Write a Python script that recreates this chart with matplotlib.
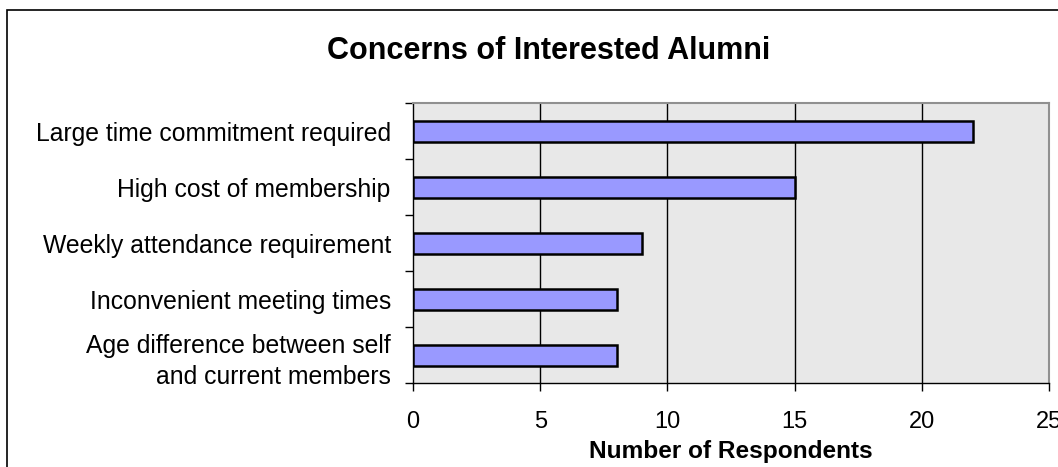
import matplotlib.pyplot as plt
from matplotlib.patches import Rectangle

concerns = [
    'Large time commitment required',
    'High cost of membership',
    'Weekly attendance requirement',
    'Inconvenient meeting times',
    'Age difference between self\nand current members',
]
respondents = [22, 15, 9, 8, 8]
x_ticks = [0, 5, 10, 15, 20, 25]

plt.rcParams['font.family'] = ['Liberation Sans', 'DejaVu Sans']

fig = plt.figure(figsize=(10.58, 4.67), dpi=100)

# outer chart frame, runs past the right and bottom edges
frame = Rectangle((7 / 1058, -0.2), 1.2, 1 - 10 / 467 + 0.2,
                  transform=fig.transFigure, fill=False,
                  edgecolor='black', linewidth=1.2, clip_on=False)
fig.patches.append(frame)

ax = fig.add_axes([413 / 1058, 1 - 383 / 467, 636 / 1058, 280 / 467])
ax.set_facecolor('#e8e8e8')

pos = list(range(len(concerns)))
ax.barh(pos, respondents, height=0.375, color='#9999ff',
        edgecolor='black', linewidth=1.8, zorder=3)

ax.set_xlim(0, 25)
ax.set_ylim(len(concerns) - 0.5, -0.5)
ax.set_xticks(x_ticks)
ax.set_xticklabels([str(v) for v in x_ticks], fontsize=17)
ax.set_yticks(pos)
ax.set_yticklabels(concerns, fontsize=17.8, ha='right', multialignment='right',
                   linespacing=1.4)
ax.set_yticks([p - 0.5 for p in pos] + [len(pos) - 0.5], minor=True)

ax.tick_params(axis='y', which='major', length=0, pad=16)
ax.tick_params(axis='y', which='minor', length=6, width=1, color='black')
ax.tick_params(axis='x', length=6, width=1, pad=14)

for v in x_ticks[1:-1]:
    ax.axvline(v, color='black', linewidth=1, zorder=1)

for side in ['top', 'right']:
    ax.spines[side].set_color('#909090')
    ax.spines[side].set_linewidth(1.5)
for side in ['left', 'bottom']:
    ax.spines[side].set_color('black')
    ax.spines[side].set_linewidth(1)

ax.set_xlabel('Number of Respondents', fontsize=17.6, fontweight='bold',
              labelpad=5)
fig.text(549 / 1058, 1 - 59 / 467, 'Concerns of Interested Alumni',
         fontsize=22, fontweight='bold', ha='center', va='baseline')

fig.savefig('out.png', dpi=100)
